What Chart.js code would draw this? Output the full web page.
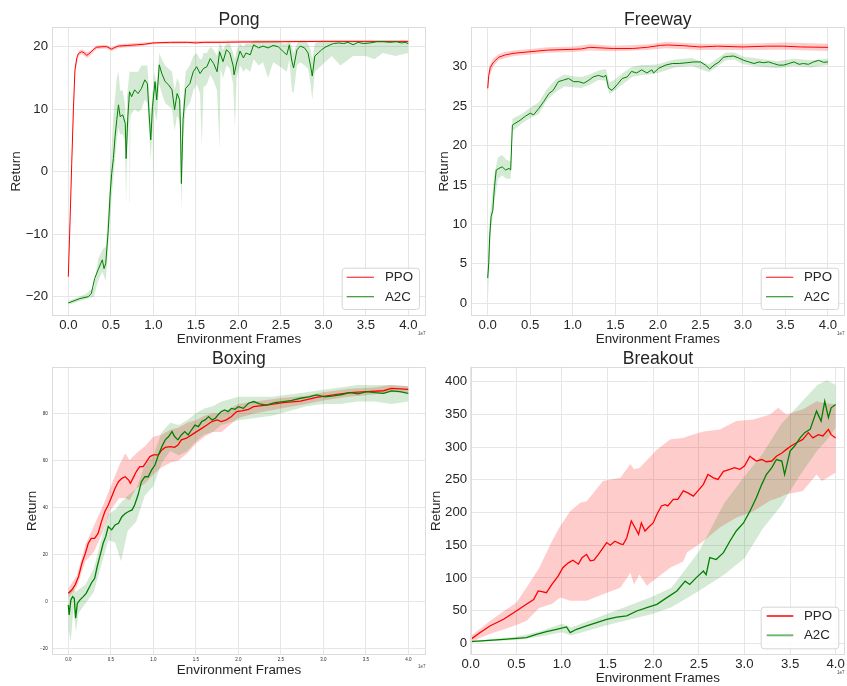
<!DOCTYPE html>
<html><head><meta charset="utf-8">
<script src="https://cdn.jsdelivr.net/npm/chart.js@4/dist/chart.umd.min.js"></script>
<style>
html,body{margin:0;padding:0;background:#fff;}
#wrap{position:relative;width:847px;height:686px;background:#fff;}
canvas{position:absolute;left:0;top:0;}
</style></head><body><div id="wrap">
<canvas id="c1" width="847" height="686"></canvas>
<canvas id="c2" width="847" height="686"></canvas>
<canvas id="c3" width="847" height="686"></canvas>
<canvas id="c4" width="847" height="686"></canvas>
</div>
<script>
// ---------- data ----------
const TITLES = ['Pong', 'Freeway', 'Boxing', 'Breakout'];
const SERIES_NAMES = ['PPO', 'A2C'];
const X_TITLE = 'Environment Frames';
const Y_TITLE = 'Return';
const X_TICKS = [0, 0.5, 1, 1.5, 2, 2.5, 3, 3.5, 4];
const X_TICK_LABELS = ['0.0', '0.5', '1.0', '1.5', '2.0', '2.5', '3.0', '3.5', '4.0'];
const X_OFFSET_LABEL = '1e7';
const PONG_Y_TICKS = [-20, -10, 0, 10, 20];
const PONG_Y_LABELS = ['\u221220', '\u221210', '0', '10', '20'];
const FREEWAY_Y_TICKS = [0, 5, 10, 15, 20, 25, 30];
const FREEWAY_Y_LABELS = ['0', '5', '10', '15', '20', '25', '30'];
const BOXING_Y_TICKS = [-20, 0, 20, 40, 60, 80];
const BOXING_Y_LABELS = ['\u221220', '0', '20', '40', '60', '80'];
const BREAKOUT_Y_TICKS = [0, 50, 100, 150, 200, 250, 300, 350, 400];
const BREAKOUT_Y_LABELS = ['0', '50', '100', '150', '200', '250', '300', '350', '400'];

// [x (1e7 frames), mean return]
const PONG_PPO = [[0,-16.8],[0.02,-8],[0.04,1.3],[0.06,10],[0.078,16.3],[0.1,18.2],[0.118,18.9],[0.157,19.2],[0.19,19.0],[0.216,18.6],[0.255,19.0],[0.3,19.6],[0.33,19.9],[0.4,20.0],[0.45,20.0],[0.51,19.6],[0.55,19.9],[0.59,20.1],[0.7,20.2],[0.8,20.3],[0.9,20.4],[1.0,20.6],[1.2,20.7],[1.4,20.7],[1.5,20.6],[1.6,20.7],[1.8,20.7],[2.0,20.75],[2.5,20.8],[3.0,20.85],[3.5,20.85],[4.0,20.85]];
const PONG_A2C = [[0,-21.0],[0.137,-20.3],[0.235,-20.0],[0.27,-19.5],[0.31,-17.1],[0.35,-15.7],[0.40,-14.1],[0.42,-15.5],[0.44,-14.7],[0.47,-9.3],[0.49,-4.0],[0.51,-0.3],[0.53,2.1],[0.55,5.6],[0.57,8.3],[0.59,10.7],[0.61,8.8],[0.64,9.1],[0.67,7.7],[0.68,2.1],[0.70,8.8],[0.72,12.8],[0.745,12.0],[0.78,13.1],[0.82,12.5],[0.86,13.3],[0.90,14.7],[0.93,14.1],[0.95,9.3],[0.97,5.1],[0.99,10.4],[1.02,14.4],[1.04,11.5],[1.07,17.1],[1.10,15.7],[1.14,14.4],[1.18,13.9],[1.22,13.1],[1.25,9.9],[1.28,12.5],[1.31,11.5],[1.32,6.7],[1.33,-1.9],[1.35,8.3],[1.38,13.3],[1.43,14.1],[1.47,16.0],[1.51,16.8],[1.55,15.7],[1.59,16.5],[1.63,16.8],[1.67,18.1],[1.71,17.3],[1.75,16.0],[1.78,19.2],[1.82,17.6],[1.86,19.5],[1.90,19.0],[1.94,16.9],[1.95,15.5],[1.98,17.4],[2.02,19.3],[2.06,18.2],[2.09,19.0],[2.14,18.7],[2.18,20.3],[2.24,19.8],[2.29,20.1],[2.35,19.8],[2.41,20.2],[2.47,20.0],[2.52,19.3],[2.57,18.7],[2.60,20.3],[2.63,17.7],[2.65,16.6],[2.69,19.5],[2.73,20.1],[2.78,19.8],[2.82,19.0],[2.85,16.9],[2.87,15.3],[2.90,18.5],[2.94,19.0],[2.98,19.5],[3.02,19.9],[3.08,20.3],[3.12,20.5],[3.18,20.6],[3.24,20.5],[3.29,20.7],[3.35,20.3],[3.41,20.7],[3.47,20.5],[3.55,20.6],[3.63,20.8],[3.71,20.8],[3.78,20.7],[3.86,20.8],[3.92,20.6],[3.96,20.7],[4.0,20.5]];
// [x, band low, band high]
const PONG_PPO_BAND = [[0,-17.3,-16.3],[0.04,0.5,2.0],[0.08,15.8,16.8],[0.12,18.5,19.3],[0.16,18.8,19.6],[0.22,18.2,19.1],[0.26,18.6,19.4],[0.33,19.6,20.2],[0.45,19.7,20.3],[0.51,19.3,19.9],[0.59,19.8,20.4],[0.8,20.0,20.6],[1.0,20.4,20.8],[1.5,20.5,20.9],[2.0,20.6,21.0],[3.0,20.7,21.0],[4.0,20.7,21.0]];
const PONG_A2C_BAND = [[0,-21.3,-20.7],[0.2,-20.4,-19.6],[0.3,-20,-18.5],[0.35,-17.5,-14],[0.40,-16,-12.5],[0.44,-17.5,-12],[0.47,-12,-6],[0.49,-7.5,-1],[0.51,-4,4],[0.53,-1,9],[0.55,2,12],[0.57,5,15],[0.59,7,16],[0.61,6,13],[0.64,6,13],[0.665,5,11],[0.68,-5,8],[0.69,3,12],[0.72,9,16],[0.725,-5,16],[0.73,9,16],[0.78,10,16],[0.82,9.5,16],[0.86,10,17],[0.90,11.5,17],[0.93,11,17],[0.95,6,13],[0.97,2,9],[0.99,7,13],[1.0,-5.5,13],[1.01,10,16],[1.04,8,14],[1.07,14,19],[1.10,12.5,18],[1.14,11,17],[1.18,10.5,16.5],[1.22,10,16],[1.25,6.5,13],[1.28,9,15],[1.31,8,14],[1.32,3,10],[1.33,-6.5,3],[1.35,5,11],[1.38,10,16],[1.43,11,17],[1.47,13,18.5],[1.51,14,19],[1.55,12.5,18],[1.57,4,18],[1.59,13.5,19],[1.63,14,19],[1.67,15.5,20],[1.71,14.5,19.5],[1.75,13,18.5],[1.78,3.5,20.5],[1.79,16.5,20.5],[1.82,15,19.5],[1.86,17,20.5],[1.90,16.5,20.5],[1.94,14,19],[1.96,7,18],[1.98,15,19.5],[2.02,17,20.5],[2.06,16,20],[2.09,16.5,20.5],[2.14,16,20.5],[2.18,18,21],[2.24,17,21],[2.29,17.5,21],[2.35,15,21],[2.41,17.5,21],[2.47,17,21],[2.52,16.5,20.5],[2.57,16,20.5],[2.60,18,21],[2.63,13,20],[2.65,12.5,19],[2.69,17,20.5],[2.73,17.5,21],[2.78,17,21],[2.82,16.5,20.5],[2.85,14,19.5],[2.87,11.5,18],[2.90,16,20.5],[2.94,16.5,20.8],[2.98,17,21],[3.02,17.5,21],[3.1,18.5,21],[3.2,17,21],[3.35,18.5,21],[3.5,18.5,21],[3.6,18,21],[3.7,19,21],[3.85,18.5,21],[4.0,19,21]];

const FREEWAY_PPO = [[0,27.25],[0.012,28.9],[0.03,29.9],[0.07,30.6],[0.13,31.2],[0.21,31.5],[0.31,31.7],[0.5,31.9],[0.7,32.1],[1.0,32.2],[1.1,32.25],[1.2,32.45],[1.48,32.3],[1.7,32.3],[1.87,32.45],[2.03,32.7],[2.11,32.75],[2.3,32.66],[2.5,32.5],[2.7,32.6],[3.0,32.5],[3.28,32.6],[3.48,32.6],[3.68,32.5],[4.0,32.45]];
const FREEWAY_A2C = [[0,3.2],[0.012,5.1],[0.023,8.4],[0.04,11.0],[0.06,11.8],[0.08,14.8],[0.10,16.9],[0.13,17.1],[0.17,17.3],[0.21,16.9],[0.25,17.1],[0.27,16.9],[0.29,22.6],[0.32,22.8],[0.38,23.2],[0.44,23.7],[0.50,24.1],[0.54,23.9],[0.60,24.7],[0.66,25.6],[0.72,26.6],[0.77,27.0],[0.83,28.1],[0.89,28.3],[0.95,28.5],[1.01,28.1],[1.07,28.1],[1.13,27.9],[1.19,28.3],[1.24,28.7],[1.30,28.9],[1.36,28.7],[1.39,28.9],[1.42,27.3],[1.46,27.0],[1.52,27.7],[1.58,28.5],[1.64,28.7],[1.69,29.4],[1.75,29.2],[1.81,29.6],[1.87,29.2],[1.93,29.6],[1.95,29.2],[2.01,29.8],[2.09,30.2],[2.17,30.4],[2.25,30.4],[2.34,30.5],[2.42,30.6],[2.50,30.6],[2.56,30.2],[2.61,29.7],[2.66,30.2],[2.72,30.6],[2.77,31.2],[2.83,31.3],[2.89,31.35],[2.95,31.1],[3.01,30.8],[3.07,30.6],[3.13,30.4],[3.19,30.6],[3.24,30.5],[3.30,30.6],[3.36,30.4],[3.42,30.2],[3.48,30.2],[3.54,30.4],[3.60,30.6],[3.66,30.3],[3.71,30.4],[3.77,30.3],[3.83,30.6],[3.89,30.8],[3.95,30.55],[4.0,30.6]];
const FREEWAY_PPO_BAND = [[0,26.5,28.0],[0.02,28.8,30.2],[0.07,30.1,31.1],[0.13,30.8,31.6],[0.21,31.1,31.9],[0.31,31.35,32.05],[0.5,31.55,32.25],[0.7,31.75,32.45],[1.0,31.85,32.55],[1.2,32.05,32.85],[1.48,31.95,32.65],[1.87,32.1,32.8],[2.1,32.35,33.15],[2.5,32.1,32.9],[3.0,32.1,32.9],[3.5,32.15,33.05],[4.0,32.0,32.9]];
const FREEWAY_A2C_BAND = [[0,0,5],[0.02,5,10],[0.04,9.5,12.5],[0.08,13,16.5],[0.12,15.8,18.5],[0.17,16.2,18.8],[0.22,15.8,18.2],[0.27,15.8,18.0],[0.29,21.8,23.4],[0.4,22.8,24.0],[0.5,23.5,24.8],[0.6,24.0,25.5],[0.7,25.8,27.2],[0.8,26.8,28.4],[0.9,27.5,29.0],[1.0,27.4,28.8],[1.1,27.3,28.7],[1.2,27.7,29.0],[1.3,28.3,29.5],[1.39,28.2,29.7],[1.43,26.5,28.0],[1.5,27.0,28.4],[1.6,27.9,29.3],[1.7,28.7,30.0],[1.8,28.9,30.2],[1.9,29.0,30.2],[2.0,29.2,30.3],[2.2,29.9,30.9],[2.4,30.1,31.1],[2.6,29.3,30.3],[2.8,30.8,31.8],[2.9,30.9,31.8],[3.0,30.3,31.3],[3.2,30.0,31.0],[3.4,29.8,30.7],[3.6,30.1,31.0],[3.8,29.9,30.8],[4.0,30.2,31.0]];

const BOXING_PPO = [[0,3.4],[0.04,4.8],[0.08,7.0],[0.12,10.5],[0.16,16.2],[0.20,20.4],[0.235,24.7],[0.27,26.8],[0.31,26.8],[0.35,28.9],[0.39,33.9],[0.43,38.2],[0.47,41.0],[0.51,44.5],[0.55,48.1],[0.59,50.9],[0.63,52.3],[0.67,53.0],[0.71,51.6],[0.73,50.2],[0.76,52.3],[0.80,55.2],[0.84,57.3],[0.88,57.3],[0.92,59.4],[0.96,61.6],[1.0,62.3],[1.06,62.3],[1.10,64.4],[1.14,65.5],[1.20,65.8],[1.25,65.5],[1.29,66.5],[1.33,68.7],[1.39,69.4],[1.45,70.8],[1.51,72.2],[1.57,73.6],[1.63,75.0],[1.69,76.5],[1.75,77.2],[1.80,76.5],[1.86,77.2],[1.92,78.6],[1.98,80.7],[2.04,81.0],[2.12,81.7],[2.18,82.8],[2.33,83.5],[2.53,84.5],[2.73,85.2],[2.92,86.8],[3.12,87.8],[3.31,88.8],[3.51,89.2],[3.71,89.6],[3.80,90.6],[4.0,90.2]];
const BOXING_A2C = [[0,-1.6],[0.01,-5.8],[0.03,0.6],[0.05,2.0],[0.07,1.3],[0.086,-7.2],[0.106,-0.9],[0.137,0.6],[0.176,2.0],[0.21,3.4],[0.25,6.2],[0.27,7.7],[0.31,9.8],[0.34,14.8],[0.36,17.6],[0.39,21.8],[0.41,24.7],[0.44,27.5],[0.47,31.8],[0.51,30.4],[0.55,32.5],[0.59,33.2],[0.63,36.0],[0.67,37.4],[0.71,38.2],[0.75,38.9],[0.78,41.0],[0.82,45.2],[0.86,50.9],[0.90,53.0],[0.94,53.0],[0.98,55.9],[1.02,58.0],[1.06,62.3],[1.10,65.8],[1.14,68.7],[1.18,70.1],[1.22,72.2],[1.25,70.1],[1.29,68.7],[1.33,70.8],[1.37,72.2],[1.41,70.8],[1.45,73.0],[1.49,75.0],[1.53,74.3],[1.57,76.5],[1.61,77.2],[1.65,78.6],[1.69,77.2],[1.73,77.9],[1.76,79.3],[1.80,80.7],[1.84,81.4],[1.88,80.7],[1.92,82.1],[1.96,81.7],[2.0,82.8],[2.06,82.1],[2.12,84.3],[2.18,85.0],[2.25,84.0],[2.33,83.5],[2.43,84.5],[2.53,85.0],[2.63,85.5],[2.73,86.4],[2.83,87.0],[2.92,87.8],[3.02,87.0],[3.12,87.4],[3.22,88.0],[3.31,88.8],[3.41,88.3],[3.51,89.2],[3.61,88.8],[3.71,88.5],[3.80,89.5],[3.90,89.2],[4.0,88.5]];
const BOXING_PPO_BAND = [[0,1.5,5.5],[0.1,6,11],[0.2,17,24],[0.3,21,32],[0.4,29,40],[0.5,39,49],[0.6,44,58],[0.67,44,63],[0.72,43,60],[0.8,48,63],[0.9,50,66],[1.0,54,70],[1.1,57,71],[1.2,59,73],[1.3,60,74],[1.4,63,76],[1.5,67,77],[1.6,70,79],[1.7,72,80],[1.8,72,80],[1.9,75,82],[2.0,78,84],[2.2,80,85],[2.5,82,86.5],[2.8,84,87.5],[3.0,85.5,89],[3.3,87,90.5],[3.6,88,91],[3.8,89,92],[4.0,89,91.5]];
const BOXING_A2C_BAND = [[0,-12,4],[0.03,-17,5],[0.06,-3,6],[0.09,-13,4],[0.12,-5,5],[0.2,-1,7],[0.3,4,14],[0.4,17,28],[0.47,26,37],[0.55,25,39],[0.62,17,42],[0.7,30,45],[0.8,34,48],[0.9,45,58],[1.0,49,62],[1.1,59,72],[1.2,64,76],[1.3,62,75],[1.4,64,77],[1.5,68,80],[1.6,71,82],[1.7,72,83],[1.8,75,85],[1.9,76,86],[2.0,77,87],[2.2,78,87],[2.4,79,87],[2.6,81,88],[2.8,83,89],[3.0,84,90],[3.2,84,91],[3.4,85,92],[3.6,85,92],[3.8,84,92],[4.0,85,91.5]];

const BREAKOUT_PPO = [[0,6],[0.1,16],[0.21,26.5],[0.36,36.7],[0.5,49.4],[0.61,59.6],[0.69,67],[0.74,80],[0.78,79],[0.83,77.4],[0.89,90],[0.96,103],[1.01,115.6],[1.07,123],[1.12,127],[1.18,121],[1.22,131],[1.27,136],[1.31,126],[1.35,127],[1.40,136],[1.45,146],[1.49,154],[1.53,150],[1.58,156],[1.64,152],[1.67,151],[1.71,161],[1.76,187],[1.80,177],[1.84,166.6],[1.87,184],[1.91,171.7],[1.96,179],[2.0,184],[2.04,197],[2.09,210],[2.13,212],[2.16,210],[2.22,220],[2.27,220],[2.33,233],[2.38,230],[2.44,225],[2.49,233],[2.55,243],[2.60,258],[2.66,253],[2.71,250.6],[2.77,263],[2.84,266],[2.89,268.5],[2.95,266],[3.0,271],[3.06,286],[3.09,282.7],[3.13,278.7],[3.19,281],[3.24,277.6],[3.30,278.7],[3.35,286],[3.41,291],[3.46,296.5],[3.51,301.6],[3.57,306.7],[3.64,311.8],[3.70,322],[3.75,314],[3.81,319],[3.86,317],[3.92,327],[3.95,319],[4.0,314]];
const BREAKOUT_A2C = [[0,2.5],[0.36,6],[0.61,8.7],[0.72,13.7],[0.83,17.8],[0.94,21.4],[1.05,25],[1.09,16.3],[1.16,21.4],[1.27,26.5],[1.38,31.6],[1.49,36.7],[1.60,40],[1.71,41.8],[1.82,49.4],[1.93,54.5],[2.04,59.6],[2.15,69.8],[2.26,80],[2.35,95],[2.40,90],[2.47,100],[2.55,110.5],[2.58,105],[2.62,131],[2.69,128],[2.77,138.6],[2.84,156],[2.91,171.7],[2.99,184],[3.06,202],[3.13,222.6],[3.19,243],[3.24,258],[3.30,268.5],[3.35,281],[3.41,278.7],[3.44,258],[3.50,293.9],[3.55,301.6],[3.61,314],[3.66,322],[3.72,327],[3.79,355],[3.84,339.8],[3.88,370],[3.92,345],[3.95,360],[4.0,365]];
const BREAKOUT_PPO_BAND = [[0,1,11],[0.1,8,22],[0.2,14,33],[0.36,21,49],[0.5,28,62],[0.61,34,85],[0.75,54,115],[0.89,60,156],[0.98,70,179],[1.09,65,202],[1.2,65,215],[1.27,65,217],[1.45,75,248],[1.64,85,253],[1.75,108,274],[1.79,90,266],[1.85,105,268],[1.93,88,280],[2.04,100,296],[2.19,116,312],[2.33,125,314],[2.37,139,316],[2.55,156,324],[2.73,177,327],[2.91,192,340],[3.1,202,342],[3.28,218,350],[3.37,222,360],[3.46,228,350],[3.64,233,358],[3.79,258,370],[3.85,248,368],[4.0,261,365]];
const BREAKOUT_A2C_BAND = [[0,1.5,3.5],[0.5,5,10],[0.75,10,18],[1.0,17,30],[1.1,12,24],[1.5,28,45],[2.0,45,72],[2.2,55,85],[2.5,80,140],[2.78,105,215],[3.0,130,255],[3.2,175,290],[3.4,210,335],[3.6,255,365],[3.8,295,395],[3.9,310,402],[4.0,330,395]];

// ---------- drawing ----------
const FONT = "'Liberation Sans', Arial, Helvetica, sans-serif";
const TXT = '#262626';
const GRID = '#e6e6e6';
Chart.defaults.font.family = FONT;

function makeChart(id, c) {
  const W = 847, H = 686;
  const pts = (arr, k) => arr.map(p => ({x: p[0], y: p[k]}));
  const clear = 'rgba(0,0,0,0)';
  const datasets = [
    {label: SERIES_NAMES[1], data: pts(c.a2c, 1), borderColor: '#008000', borderWidth: c.lw, pointRadius: 0, fill: false, tension: 0},
    {label: SERIES_NAMES[0], data: pts(c.ppo, 1), borderColor: '#ff0000', borderWidth: c.lw, pointRadius: 0, fill: false, tension: 0},
    {label: 'a2c-lo', data: pts(c.a2cBand, 1), borderColor: clear, borderWidth: 0, pointRadius: 0, fill: false},
    {label: 'a2c-hi', data: pts(c.a2cBand, 2), borderColor: clear, borderWidth: 0, pointRadius: 0, fill: 2, backgroundColor: 'rgba(0,128,0,0.17)'},
    {label: 'ppo-lo', data: pts(c.ppoBand, 1), borderColor: clear, borderWidth: 0, pointRadius: 0, fill: false},
    {label: 'ppo-hi', data: pts(c.ppoBand, 2), borderColor: clear, borderWidth: 0, pointRadius: 0, fill: 4, backgroundColor: 'rgba(255,0,0,0.2)'}
  ];
  const decor = {
    id: 'decor',
    afterDraw(chart) {
      const ctx = chart.ctx, a = chart.chartArea;
      ctx.save();
      ctx.strokeStyle = '#dcdcdc'; ctx.lineWidth = 1;
      ctx.strokeRect(Math.round(a.left) + 0.5, Math.round(a.top) + 0.5, Math.round(a.right) - Math.round(a.left) - 1, Math.round(a.bottom) - Math.round(a.top) - 1);
      ctx.fillStyle = TXT; ctx.textAlign = 'center'; ctx.textBaseline = 'alphabetic';
      ctx.font = c.titleSize + 'px ' + FONT;
      ctx.fillText(c.title, (a.left + a.right) / 2, c.titleY);
      ctx.font = '4.5px ' + FONT; ctx.fillStyle = '#444';
      ctx.textBaseline = 'middle';
      ctx.fillText(X_OFFSET_LABEL, c.offX, c.offY);
      if (c.legend) {
        const L = c.legend;
        ctx.beginPath();
        if (ctx.roundRect) ctx.roundRect(L.x0 + 0.5, L.y0 + 0.5, L.x1 - L.x0, L.y1 - L.y0, 3);
        else ctx.rect(L.x0 + 0.5, L.y0 + 0.5, L.x1 - L.x0, L.y1 - L.y0);
        ctx.fillStyle = 'rgba(255,255,255,0.85)'; ctx.fill();
        ctx.strokeStyle = '#d6d6d6'; ctx.lineWidth = 1; ctx.stroke();
        const cols = L.colors;
        for (let i = 0; i < 2; i++) {
          ctx.strokeStyle = cols[i]; ctx.lineWidth = L.lw;
          ctx.beginPath(); ctx.moveTo(L.lx0, L.rows[i]); ctx.lineTo(L.lx1, L.rows[i]); ctx.stroke();
          ctx.fillStyle = TXT; ctx.textAlign = 'left'; ctx.textBaseline = 'middle';
          ctx.font = '13.3px ' + FONT;
          ctx.fillText(SERIES_NAMES[i], L.tx, L.rows[i] + 0.5);
        }
      }
      ctx.restore();
    }
  };
  return new Chart(document.getElementById(id), {
    type: 'line',
    data: {datasets},
    options: {
      responsive: false, animation: false, events: [],
      layout: {padding: {left: c.L - c.yW, right: W - c.R, top: c.T, bottom: H - c.B - c.xH}},
      plugins: {legend: {display: false}, tooltip: {enabled: false}, title: {display: false}},
      scales: {
        x: {
          type: 'linear', bounds: 'data', min: c.xMin, max: c.xMax,
          afterBuildTicks: s => { s.ticks = X_TICKS.map(v => ({value: v})); },
          afterFit: s => { s.height = c.xH; },
          ticks: {callback: (v, i) => X_TICK_LABELS[i], font: {family: FONT, size: c.tickSize}, color: TXT, padding: c.xTickPad, maxRotation: 0, autoSkip: false},
          grid: {color: GRID, lineWidth: 1, drawTicks: false},
          border: {display: false},
          title: {display: true, text: X_TITLE, color: TXT, font: {family: FONT, size: 13.4}, padding: {top: 0, bottom: c.xTitlePad}}
        },
        y: {
          type: 'linear', bounds: 'data', min: c.yMin, max: c.yMax,
          afterBuildTicks: s => { s.ticks = c.yTicks.map(v => ({value: v})); },
          afterFit: s => { s.width = c.yW; },
          ticks: {callback: (v, i) => c.yLabels[i], font: {family: FONT, size: c.tickSize}, color: TXT, padding: c.yTickPad, autoSkip: false},
          grid: {color: GRID, lineWidth: 1, drawTicks: false},
          border: {display: false},
          title: {display: true, text: Y_TITLE, color: TXT, font: {family: FONT, size: 13.4}, padding: {top: c.yTitlePad, bottom: 0}}
        }
      }
    },
    plugins: [decor]
  });
}

const LEG_COLORS = ['rgba(255,0,0,0.8)', 'rgba(0,128,0,0.8)'];

makeChart('c1', {
  title: TITLES[0], titleSize: 17.6, titleY: 25,
  L: 52, R: 426, T: 27, B: 316, yW: 52, xH: 40,
  xMin: -0.192, xMax: 4.208, yMin: -23.09, yMax: 23.15,
  yTicks: PONG_Y_TICKS, yLabels: PONG_Y_LABELS,
  tickSize: 13.2, xTickPad: 1, yTickPad: 4, yTitlePad: 8.7, xTitlePad: 9,
  lw: 1, ppo: PONG_PPO, a2c: PONG_A2C, ppoBand: PONG_PPO_BAND, a2cBand: PONG_A2C_BAND,
  offX: 421.7, offY: 334,
  legend: {x0: 341.7, x1: 419, y0: 267.7, y1: 309, lx0: 346.7, lx1: 374, tx: 385, rows: [277.3, 296.7], lw: 1.2, colors: LEG_COLORS}
});
makeChart('c2', {
  title: TITLES[1], titleSize: 17.6, titleY: 25,
  L: 470.7, R: 845, T: 27, B: 316, yW: 40.7, xH: 40,
  xMin: -0.2, xMax: 4.2, yMin: -1.61, yMax: 35.03,
  yTicks: FREEWAY_Y_TICKS, yLabels: FREEWAY_Y_LABELS,
  tickSize: 13.2, xTickPad: 1, yTickPad: 3.5, yTitlePad: 5.8, xTitlePad: 9,
  lw: 1, ppo: FREEWAY_PPO, a2c: FREEWAY_A2C, ppoBand: FREEWAY_PPO_BAND, a2cBand: FREEWAY_A2C_BAND,
  offX: 840.7, offY: 334,
  legend: {x0: 760.7, x1: 838.3, y0: 267.7, y1: 309, lx0: 766, lx1: 793.3, tx: 804, rows: [277.3, 296.7], lw: 1.2, colors: LEG_COLORS}
});
makeChart('c3', {
  title: TITLES[2], titleSize: 17.6, titleY: 364,
  L: 52, R: 426, T: 366.7, B: 655, yW: 52, xH: 30,
  xMin: -0.192, xMax: 4.208, yMin: -22.85, yMax: 99.83,
  yTicks: BOXING_Y_TICKS, yLabels: BOXING_Y_LABELS,
  tickSize: 4.5, xTickPad: 2.3, yTickPad: 4.3, yTitlePad: 24, xTitlePad: 6.4,
  lw: 1.3, ppo: BOXING_PPO, a2c: BOXING_A2C, ppoBand: BOXING_PPO_BAND, a2cBand: BOXING_A2C_BAND,
  offX: 421.7, offY: 667,
  legend: null
});
makeChart('c4', {
  title: TITLES[3], titleSize: 17.6, titleY: 364,
  L: 470.7, R: 845, T: 366.7, B: 655, yW: 45.7, xH: 31,
  xMin: 0, xMax: 4.102, yMin: -17.9, yMax: 422.9,
  yTicks: BREAKOUT_Y_TICKS, yLabels: BREAKOUT_Y_LABELS,
  tickSize: 13.2, xTickPad: 1, yTickPad: 3.6, yTitlePad: 3.3, xTitlePad: 0,
  lw: 1.3, ppo: BREAKOUT_PPO, a2c: BREAKOUT_A2C, ppoBand: BREAKOUT_PPO_BAND, a2cBand: BREAKOUT_A2C_BAND,
  offX: 840.7, offY: 673,
  legend: {x0: 760.7, x1: 838.3, y0: 606.7, y1: 648.3, lx0: 766.7, lx1: 793.3, tx: 804, rows: [616, 635.3], lw: 2, colors: ['rgba(255,0,0,0.75)', 'rgba(0,128,0,0.55)']}
});
</script>
</body></html>
